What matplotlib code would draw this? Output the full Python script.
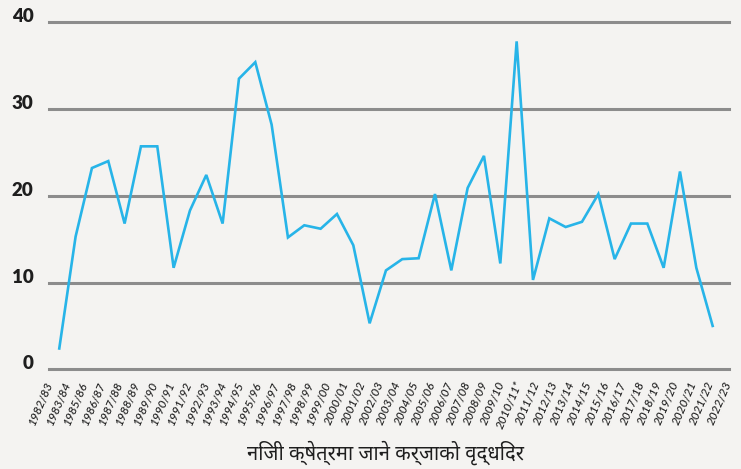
import numpy as np
import matplotlib.pyplot as plt
import matplotlib.transforms as mtransforms

# Growth rate of credit to the private sector (%)
years = ['1982/83', '1983/84', '1985/86', '1986/87', '1987/88', '1988/89', '1989/90',
         '1990/91', '1991/92', '1992/93', '1993/94', '1994/95', '1995/96', '1996/97',
         '1997/98', '1998/99', '1999/00', '2000/01', '2001/02', '2002/03', '2003/04',
         '2004/05', '2005/06', '2006/07', '2007/08', '2008/09', '2009/10', '2010/11*',
         '2011/12', '2012/13', '2013/14', '2014/15', '2015/16', '2016/17', '2017/18',
         '2018/19', '2019/20', '2020/21', '2021/22', '2022/23']

growth = [2.4, 15.3, 23.2, 24.0, 16.8, 25.7, 25.7, 11.7, 18.3, 22.4,
          16.8, 33.5, 35.4, 28.2, 15.2, 16.6, 16.2, 17.9, 14.3, 5.3,
          11.4, 12.7, 12.8, 20.2, 11.4, 20.9, 24.6, 12.2, 37.8, 10.3,
          17.4, 16.4, 17.0, 20.2, 12.7, 16.8, 16.8, 11.7, 22.8, 11.7, 5.0]

yticks = [0, 10, 20, 30, 40]
title = 'निजी क्षेत्रमा जाने कर्जाको वृद्धिदर'

bg = '#f4f3f1'
fig = plt.figure(figsize=(7.41, 4.69), dpi=100, facecolor=bg)
ax = fig.add_axes([0.0661, 0.2126, 0.9177, 0.7399], facecolor=bg)

x = np.arange(len(growth))
ax.plot(x, growth, color='#27b4e8', lw=1.9, solid_joinstyle='miter', zorder=3)

for v in yticks:
    ax.axhline(v, color='#8c8c8c', lw=2.2, clip_on=False, zorder=1)

ax.set_xlim(-0.63, 41.0)
ax.set_ylim(0, 40)

for s in ax.spines.values():
    s.set_visible(False)

ax.set_yticks(yticks)
ax.set_yticklabels([str(v) for v in yticks], fontsize=13.5, fontweight='heavy',
                   family='Lato', color='#1e1e1e')
ax.tick_params(axis='y', length=0, pad=11)
shift = mtransforms.ScaledTranslation(0, 5 / 72, fig.dpi_scale_trans)
for lab in ax.get_yticklabels():
    lab.set_transform(lab.get_transform() + shift)

# label positions spread from pixel ~50 to ~728 across the axis
tick_px = np.linspace(50, 728, len(years))
tick_pos = (tick_px - 59.3) / 16.33
ax.set_xticks(tick_pos)
ax.set_xticklabels(years, rotation=67, ha='right', va='center',
                   rotation_mode='anchor', fontsize=8.5, style='italic',
                   fontweight='medium', family='Lato', color='#1e1e1e')
ax.tick_params(axis='x', length=0, pad=9)

fig.text(0.52, 0.008, title, ha='center', va='bottom', fontsize=14.5, fontweight='bold',
         family=['Noto Sans Devanagari', 'Noto Sans', 'DejaVu Sans'], color='#1e1e1e')

fig.savefig('out.png', dpi=100, facecolor=bg)
